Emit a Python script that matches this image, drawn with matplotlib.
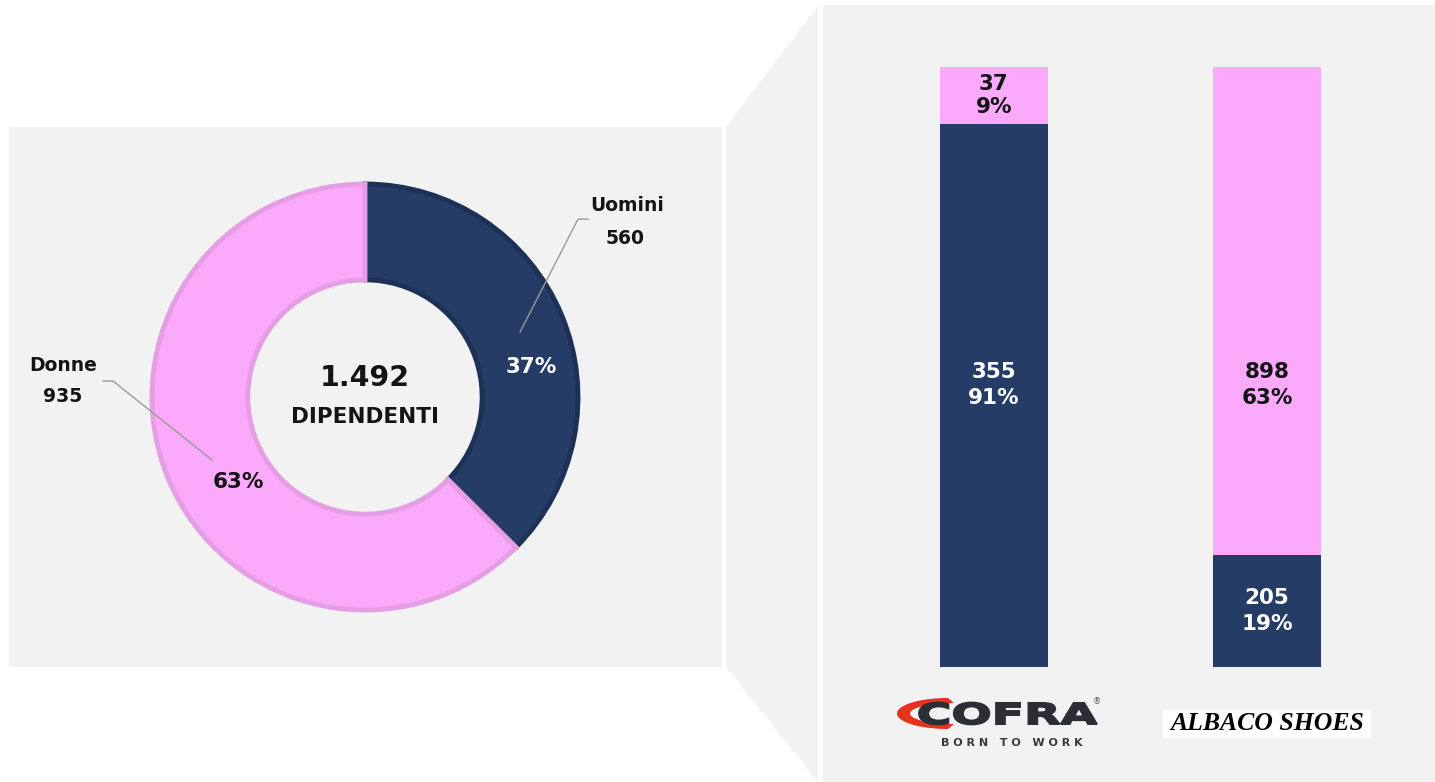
import matplotlib

matplotlib.use("Agg")
import matplotlib.pyplot as plt
import numpy as np
from matplotlib.font_manager import FontProperties
from matplotlib.patches import PathPatch, Polygon, Rectangle
from matplotlib.textpath import TextPath
from matplotlib.transforms import Affine2D

W, H = 1435, 782

NAVY = "#253c66"
NAVY_EDGE = "#1d3156"
PINK = "#fbaafb"
PINK_EDGE = "#e59ee4"
PANEL = "#f2f2f2"
INK = "#141414"
LEADER = "#9a9a9a"

# gruppo: totale dipendenti
donut_labels = ["Uomini", "Donne"]
donut_counts = [560, 935]
donut_pct = ["37%", "63%"]
total_text = "1.492"

# dettaglio per azienda
companies = ["COFRA", "ALBACO SHOES"]
men = [355, 205]
women = [37, 898]
men_pct = ["91%", "19%"]
women_pct = ["9%", "63%"]

plt.rcParams["font.family"] = ["DejaVu Sans"]

fig = plt.figure(figsize=(W / 100, H / 100), dpi=100, facecolor="white")


def px_axes(x0, y0, x1, y1):
    return fig.add_axes([x0 / W, 1 - y1 / H, (x1 - x0) / W, (y1 - y0) / H])


# --- background panels and the zoom connector ---
bg = px_axes(0, 0, W, H)
bg.set_xlim(0, W)
bg.set_ylim(H, 0)
bg.axis("off")
bg.add_patch(Rectangle((9, 127), 713, 540, color=PANEL, lw=0))
bg.add_patch(Polygon([(726, 127), (818, 6), (818, H), (726, 667)], color=PANEL, lw=0))
bg.add_patch(Rectangle((823, 5), W - 823, H - 5, color=PANEL, lw=0))

# --- donut ---
cx, cy, r = 365, 397, 213
ax = px_axes(cx - r, cy - r, cx + r, cy + r)
wedges, _ = ax.pie(
    donut_counts,
    startangle=90,
    counterclock=False,
    colors=[NAVY, PINK],
    radius=1,
    wedgeprops=dict(width=0.45, linewidth=3.5),
)
wedges[0].set_edgecolor(NAVY_EDGE)
wedges[1].set_edgecolor(PINK_EDGE)
for w in wedges:
    w.set_clip_on(False)
ax.set_xlim(-1, 1)
ax.set_ylim(-1, 1)
ax.axis("off")

ax.text(0.78, 0.14, donut_pct[0], color="white", fontsize=15.5, fontweight="bold",
        ha="center", va="center")
ax.text(-0.596, -0.40, donut_pct[1], color=INK, fontsize=15.5, fontweight="bold",
        ha="center", va="center")
ax.text(0, 0.089, total_text, color=INK, fontsize=20.5, fontweight="bold",
        ha="center", va="center")
ax.text(0, -0.094, "DIPENDENTI", color=INK, fontsize=15.5, fontweight="bold",
        ha="center", va="center")

# outside labels with leader lines
ax.text(1.23, 0.90, donut_labels[0], color=INK, fontsize=13.5, fontweight="bold",
        ha="center", va="center")
ax.text(1.22, 0.745, f"{donut_counts[0]}", color=INK, fontsize=13.5, fontweight="bold",
        ha="center", va="center")
ax.plot([1.047, 1.0, 0.728], [0.835, 0.835, 0.305], color=LEADER, lw=1, clip_on=False)

ax.text(-1.418, 0.15, donut_labels[1], color=INK, fontsize=13.5, fontweight="bold",
        ha="center", va="center")
ax.text(-1.42, 0.0, f"{donut_counts[1]}", color=INK, fontsize=13.5, fontweight="bold",
        ha="center", va="center")
ax.plot([-1.23, -1.183, -0.718], [0.075, 0.075, -0.296], color=LEADER, lw=1, clip_on=False)

# --- 100% stacked bars per company ---
bx = px_axes(940, 67, 1321, 667)
bw = 108 / 273
xpos = np.arange(len(companies))
share_m = np.array(men) / (np.array(men) + np.array(women))
share_f = np.array(women) / (np.array(men) + np.array(women))
bx.bar(xpos, share_m, width=bw, color=NAVY, lw=0)
bx.bar(xpos, share_f, bottom=share_m, width=bw, color=PINK, lw=0)
bx.set_xlim(-bw / 2, len(companies) - 1 + bw / 2)
bx.set_ylim(0, 1)
bx.axis("off")

for i in range(len(companies)):
    segs = [
        (0, share_m[i], f"{men[i]}\n{men_pct[i]}", "white"),
        (share_m[i], share_f[i], f"{women[i]}\n{women_pct[i]}", INK),
    ]
    for bottom, h, label, col in segs:
        y = 0.47 if h > 0.5 else bottom + h / 2
        bx.text(xpos[i], y, label, color=col, fontsize=15.5, fontweight="bold",
                ha="center", va="center", linespacing=1.4 if h > 0.15 else 1.2)

# --- company marks under the bars ---
# COFRA: red swoosh + stretched heavy lettering
t = np.linspace(np.pi / 2, 3 * np.pi / 2, 60)
outer = np.column_stack([948 + 51 * np.cos(t), 713.5 - 15.5 * np.sin(t)])
inner = np.column_stack([954 + 44 * np.cos(t[::-1]), 713.5 - 10.5 * np.sin(t[::-1])])
bg.add_patch(Polygon(np.vstack([outer, inner]), color="#e8321e", lw=0))

tp = TextPath((0, 0), "COFRA", size=1, prop=FontProperties(family="DejaVu Sans", weight="bold"))
ext = tp.get_extents()
sx = 178 / ext.width
sy = 22 / ext.height
trans = Affine2D().translate(-ext.x0, -ext.y0).scale(sx, -sy).translate(919, 724.5)
bg.add_patch(PathPatch(trans.transform_path(tp), facecolor="#2b2e35",
                       edgecolor="#2b2e35", lw=1.3))
bg.text(1097, 702, "®", color="#555555", fontsize=6, ha="center", va="center")
bg.text(1012, 743, "B O R N   T O   W O R K", color="#3a3a3a", fontsize=8,
        fontweight="bold", ha="center", va="center")

bg.add_patch(Rectangle((1163, 710), 208, 28, color="white", lw=0))
bg.text(1267, 724, "ALBACO SHOES", color="black", fontsize=18.5, fontweight="bold",
        fontstyle="italic", family="Liberation Serif", ha="center", va="center")

fig.savefig("out.png", dpi=100, facecolor="white")
